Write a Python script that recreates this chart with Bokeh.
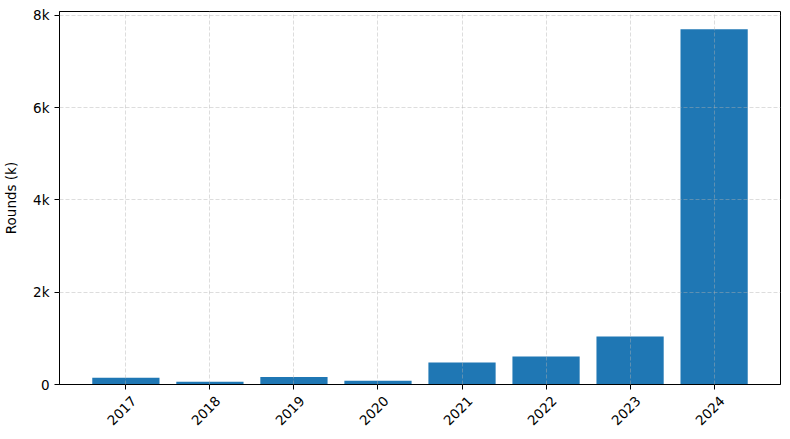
import math
from bokeh.plotting import figure
from bokeh.models import Range1d, FixedTicker, ColumnDataSource, LinearAxis
from bokeh.embed import file_html
from bokeh.resources import INLINE

years = ["2017", "2018", "2019", "2020", "2021", "2022", "2023", "2024"]
rounds = [145, 60, 165, 80, 475, 605, 1040, 7700]
y_ticks = [0, 2000, 4000, 6000, 8000]
y_tick_labels = ["0", "2k", "4k", "6k", "8k"]

xs = list(range(len(years)))
src = ColumnDataSource(data=dict(x=xs, top=rounds, year=years))

x0, x1 = -0.79, len(years) - 1 + 0.79
label_shift = 0.095  # moves rotated labels so they sit centred under their tick

p = figure(width=790, height=439, output_backend="svg", toolbar_location=None,
           x_range=Range1d(x0, x1),
           y_range=Range1d(0, max(rounds) * 1.05),
           x_axis_location=None,
           min_border_left=56, min_border_right=10, min_border_top=11, min_border_bottom=55)
p.extra_x_ranges = {"lab": Range1d(x0 - label_shift, x1 - label_shift)}

p.vbar(x="x", top="top", width=0.8, source=src, color="#1f77b4", line_color=None)

font = "DejaVu Sans"

# axis carrying only the tick marks
tick_axis = LinearAxis(ticker=FixedTicker(ticks=xs))
tick_axis.axis_line_color = "black"
tick_axis.major_tick_line_color = "black"
tick_axis.major_tick_out = 5
tick_axis.major_tick_in = 0
tick_axis.minor_tick_line_color = None
tick_axis.major_label_text_font_size = "1px"
tick_axis.major_label_text_color = None
tick_axis.major_label_standoff = 0
p.add_layout(tick_axis, "below")

# axis carrying the rotated year labels
lab_axis = LinearAxis(x_range_name="lab", ticker=FixedTicker(ticks=xs))
lab_axis.major_label_overrides = {i: y for i, y in enumerate(years)}
lab_axis.major_label_orientation = math.pi / 4
lab_axis.axis_line_color = None
lab_axis.major_tick_line_color = None
lab_axis.minor_tick_line_color = None
lab_axis.major_tick_out = 0
lab_axis.major_tick_in = 0
lab_axis.major_label_standoff = 9
lab_axis.major_label_text_font = font
lab_axis.major_label_text_font_size = "13.5px"
lab_axis.major_label_text_color = "black"
p.add_layout(lab_axis, "below")

p.yaxis.ticker = FixedTicker(ticks=y_ticks)
p.yaxis.major_label_overrides = {t: l for t, l in zip(y_ticks, y_tick_labels)}
p.yaxis.axis_label = "Rounds (k)"
ax = p.yaxis
ax.axis_line_color = "black"
ax.major_tick_line_color = "black"
ax.major_tick_out = 5
ax.major_tick_in = 0
ax.minor_tick_line_color = None
ax.major_label_text_font = font
ax.major_label_text_color = "black"
ax.major_label_text_font_size = "13.5px"
ax.major_label_standoff = 5
ax.axis_label_text_font = font
ax.axis_label_text_font_size = "13.5px"
ax.axis_label_text_font_style = "normal"
ax.axis_label_text_color = "black"
ax.axis_label_standoff = 11

for g in (p.xgrid, p.ygrid):
    g.grid_line_color = "#b0b0b0"
    g.grid_line_alpha = 0.55
    g.grid_line_dash = "4 2"
    g.grid_line_width = 0.8
    g.level = "overlay"
p.xgrid.ticker = FixedTicker(ticks=xs)
p.ygrid.ticker = FixedTicker(ticks=y_ticks)

p.outline_line_color = "black"
p.outline_line_width = 1
p.background_fill_color = "white"
p.border_fill_color = "white"

open("out.html", "w").write(file_html(p, INLINE))
